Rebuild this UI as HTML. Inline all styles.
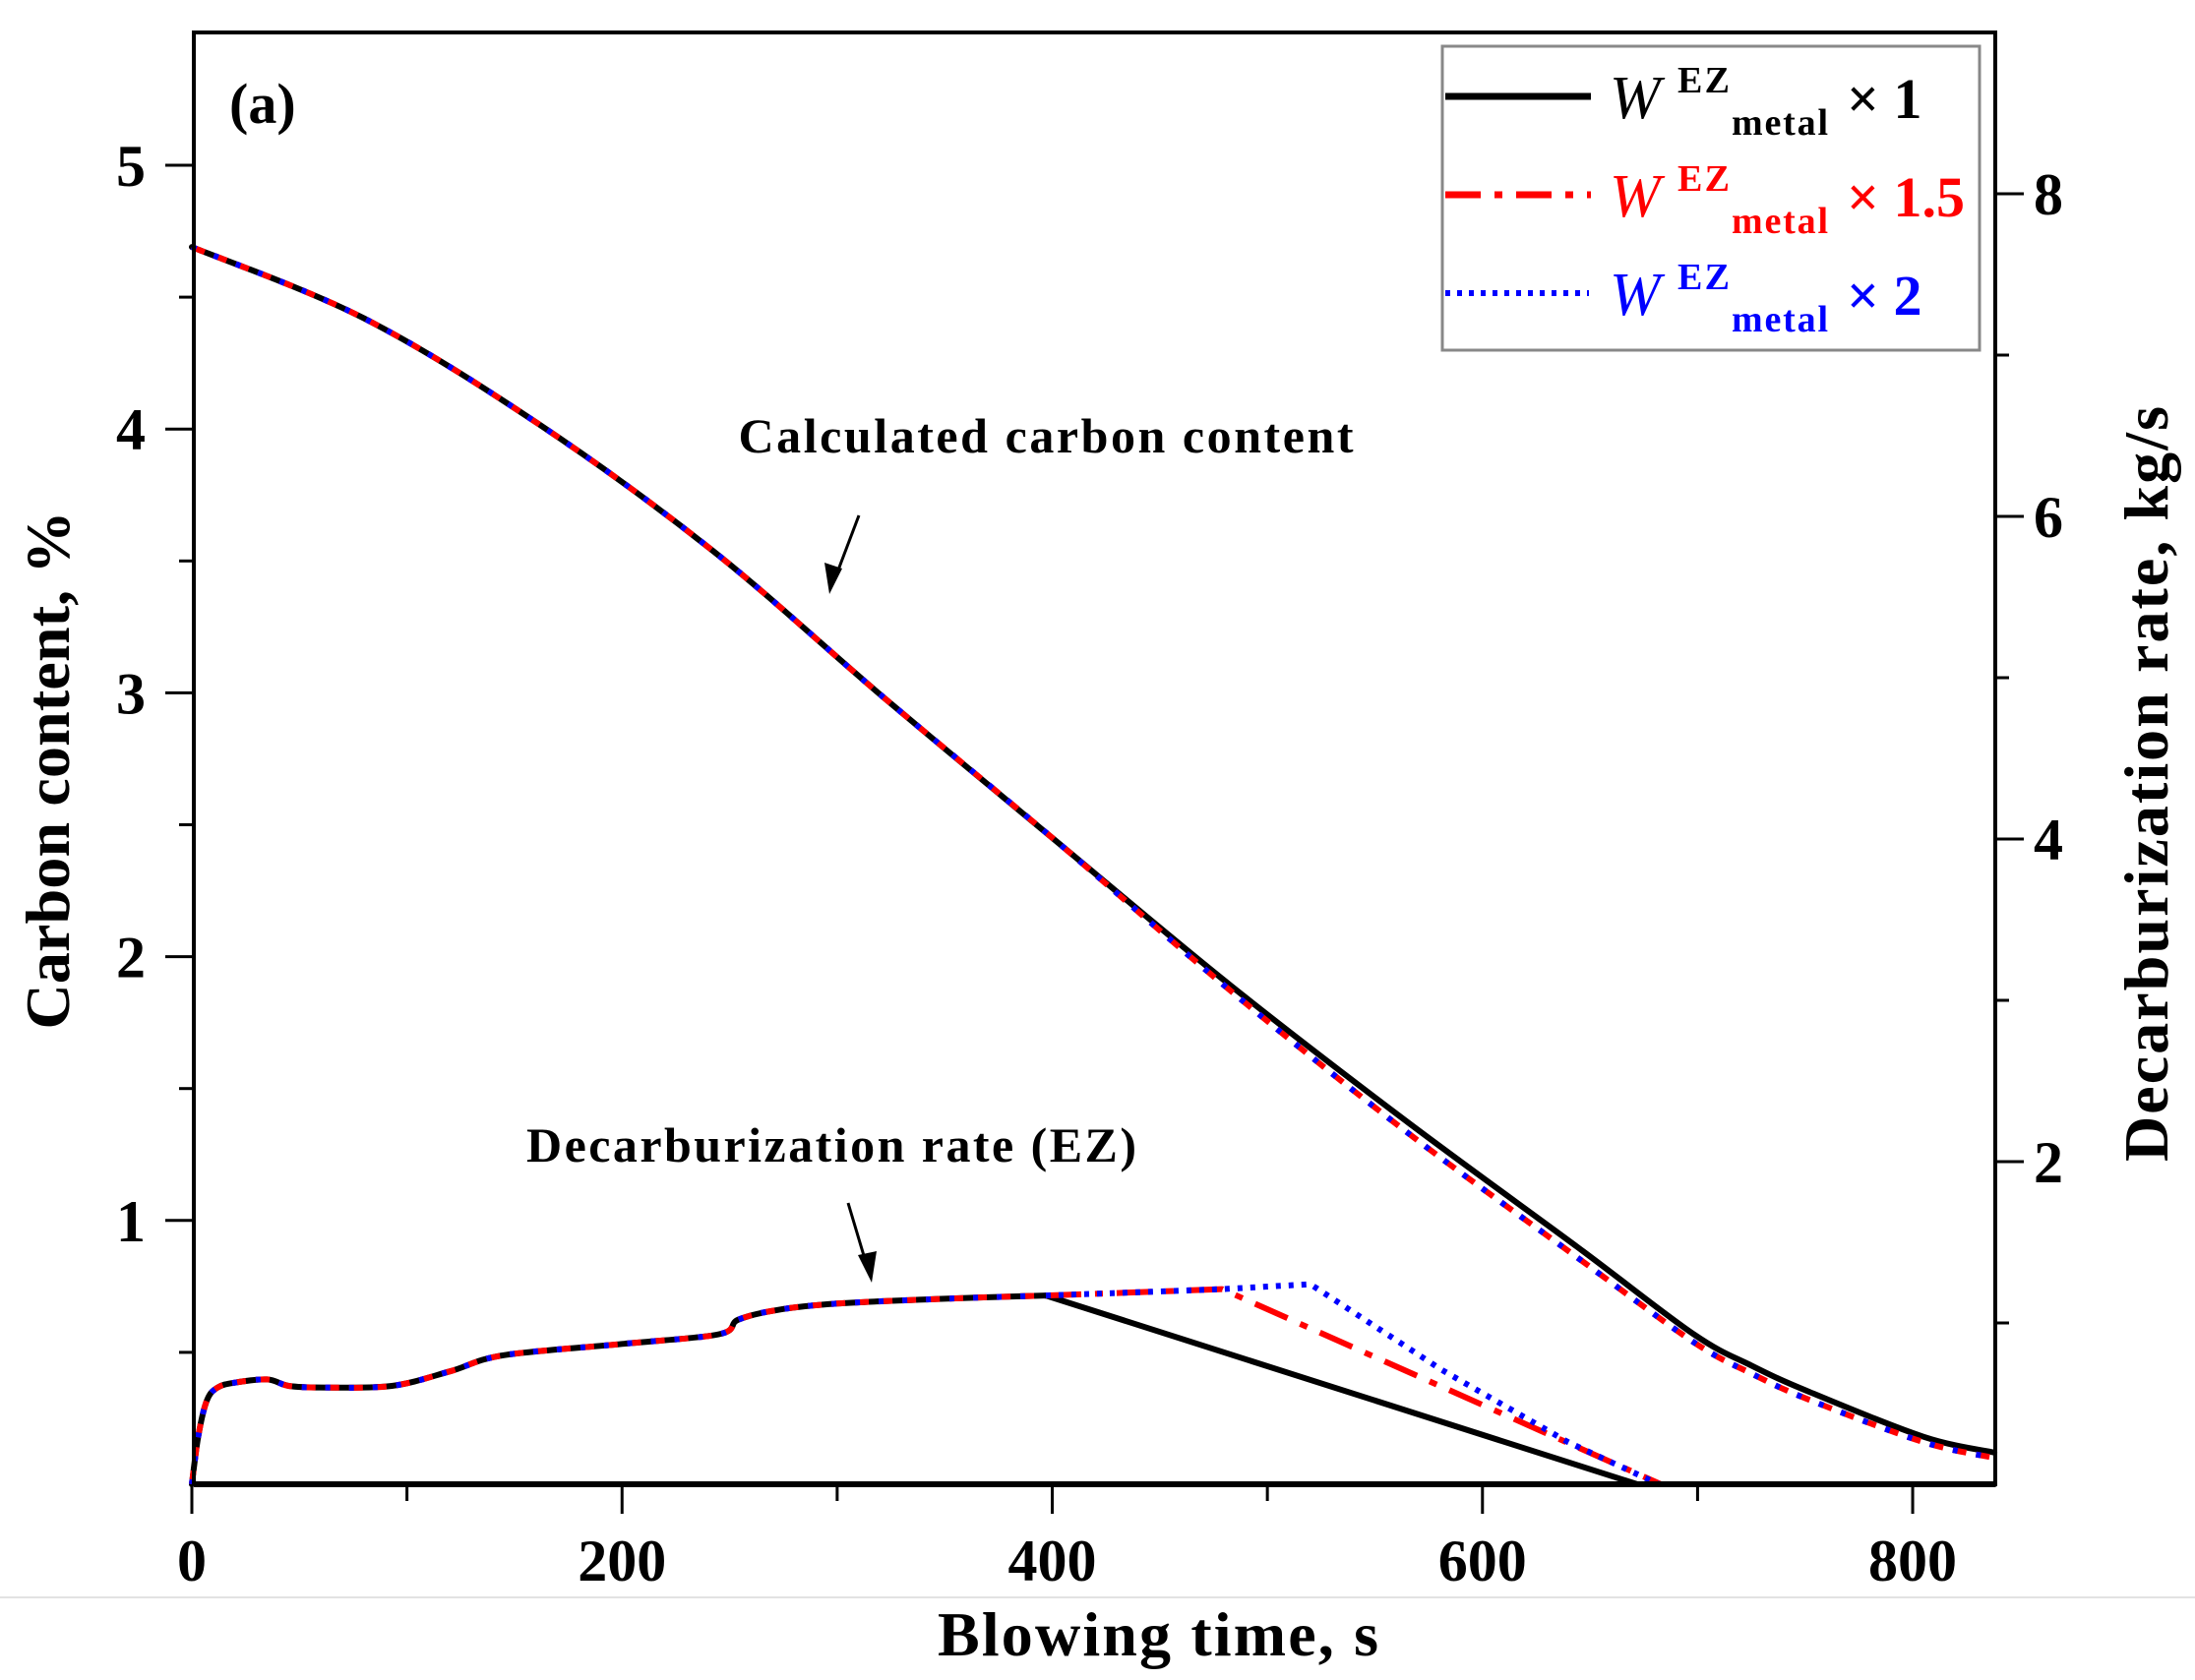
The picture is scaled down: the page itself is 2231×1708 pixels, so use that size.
<!DOCTYPE html>
<html><head><meta charset="utf-8"><style>
html,body{margin:0;padding:0;background:#fff;}
svg{display:block;font-family:"Liberation Serif",serif;}
</style></head><body>
<svg id="chart" width="2231" height="1708" viewBox="0 0 2231 1708" xmlns="http://www.w3.org/2000/svg">
<rect x="0" y="0" width="2231" height="1708" fill="#fff"/>
<line x1="0" y1="1624" x2="2231" y2="1624" stroke="#e2e2e2" stroke-width="2"/>
<g id="marks"></g>
<g id="axes"></g>
<text x="233" y="125" font-size="58" font-weight="bold">(a)</text>
<text x="1063" y="460" font-size="50" font-weight="bold" text-anchor="middle" textLength="625">Calculated carbon content</text>
<text x="845" y="1181" font-size="50" font-weight="bold" text-anchor="middle" textLength="620">Decarburization rate (EZ)</text>
<g><line x1="873" y1="524" x2="848" y2="590" stroke="#000" stroke-width="3"/><polygon points="843,604 838,572 856,578" fill="#000"/></g>
<g><line x1="862" y1="1223" x2="882" y2="1290" stroke="#000" stroke-width="3"/><polygon points="886,1304 872,1276 891,1272" fill="#000"/></g>
<text x="1177" y="1683" font-size="64" font-weight="bold" text-anchor="middle" textLength="448">Blowing time, s</text>
<text transform="translate(70,783) rotate(-90)" font-size="64" font-weight="bold" text-anchor="middle" textLength="527">Carbon content, %</text>
<text transform="translate(2203,797) rotate(-90)" font-size="64" font-weight="bold" text-anchor="middle" textLength="768">Decarburization rate, kg/s</text>
<g>
<rect x="1466" y="47" width="546" height="309" fill="#fff" stroke="#888" stroke-width="3"/>
<g>
<line x1="1469" y1="98" x2="1617" y2="98" stroke="#000" stroke-width="7"/>
<text x="1636" y="120" font-size="62" font-style="italic" fill="#000">W</text>
<text x="1705" y="94" font-size="38" font-weight="bold" fill="#000" textLength="53">EZ</text>
<text x="1760" y="137" font-size="38" font-weight="bold" fill="#000" textLength="98">metal</text>
<text x="1877" y="120" font-size="58" font-weight="bold" fill="#000">× 1</text>
</g>
<g>
<line x1="1469" y1="198" x2="1617" y2="198" stroke="#f00" stroke-width="7" stroke-dasharray="36,14,8,14"/>
<text x="1636" y="220" font-size="62" font-style="italic" fill="#f00">W</text>
<text x="1705" y="194" font-size="38" font-weight="bold" fill="#f00" textLength="53">EZ</text>
<text x="1760" y="237" font-size="38" font-weight="bold" fill="#f00" textLength="98">metal</text>
<text x="1877" y="220" font-size="58" font-weight="bold" fill="#f00">× 1.5</text>
</g>
<g>
<line x1="1469" y1="298" x2="1615" y2="298" stroke="#00f" stroke-width="6" stroke-dasharray="5,7"/>
<text x="1636" y="320" font-size="62" font-style="italic" fill="#00f">W</text>
<text x="1705" y="294" font-size="38" font-weight="bold" fill="#00f" textLength="53">EZ</text>
<text x="1760" y="337" font-size="38" font-weight="bold" fill="#00f" textLength="98">metal</text>
<text x="1877" y="320" font-size="58" font-weight="bold" fill="#00f">× 2</text>
</g>
</g>
</svg>
<script>
// ---- data ----
const carbonTime = [0, 80, 161, 242, 322, 403, 483, 564, 644, 698, 725, 752, 805, 838];
const carbonBase = [4.69, 4.42, 4.02, 3.54, 2.98, 2.43, 1.89, 1.38, 0.90, 0.57, 0.45, 0.35, 0.18, 0.12];
const carbonAlt  = [4.69, 4.42, 4.02, 3.54, 2.98, 2.43, 1.87, 1.34, 0.86, 0.54, 0.42, 0.32, 0.16, 0.10];
const rateTimeCommon = [0, 3, 7, 12, 20, 35, 45, 60, 93, 120, 145, 200, 245, 254, 272, 300, 350, 397];
const rateCommon     = [0, 0.30, 0.52, 0.60, 0.63, 0.65, 0.61, 0.60, 0.61, 0.70, 0.80, 0.87, 0.93, 1.02, 1.08, 1.12, 1.15, 1.17];
const rateTimeX1   = [397, 672, 838];
const rateX1       = [1.17, 0, 0];
const rateTimeX15  = [397, 440, 479, 683, 838];
const rateX15      = [1.17, 1.19, 1.21, 0, 0];
const rateTimeX2   = [397, 440, 479, 520, 581, 640, 682, 838];
const rateX2       = [1.17, 1.19, 1.21, 1.24, 0.71, 0.26, 0, 0];
const xTicks = [0, 200, 400, 600, 800];
const xMinor = [100, 300, 500, 700];
const leftTicks = [1, 2, 3, 4, 5];
const leftMinor = [0.5, 1.5, 2.5, 3.5, 4.5];
const rightTicks = [2, 4, 6, 8];
const rightMinor = [1, 3, 5, 7];

// ---- axes functions ----
const X0 = 197, X1 = 2028, Y0 = 1509, YT = 33;
const xs = t => 195 + t * 2.1863;
const yl = c => 1509 - c * 268.2;
const yr = r => 1509 - r * 164;
const NS = 'http://www.w3.org/2000/svg';
const marks = document.getElementById('marks');
const axes = document.getElementById('axes');
function mk(tag, attrs, parent) {
  const e = document.createElementNS(NS, tag);
  for (const k in attrs) e.setAttribute(k, attrs[k]);
  parent.appendChild(e);
  return e;
}
function pathD(ts, vs, f, smooth) {
  const p = ts.map((t, i) => [xs(t), f(vs[i])]);
  if (!smooth) return p.map((q, i) => (i ? 'L' : 'M') + q[0].toFixed(1) + ',' + q[1].toFixed(1)).join(' ');
  let d = 'M' + p[0][0].toFixed(1) + ',' + p[0][1].toFixed(1);
  for (let i = 0; i < p.length - 1; i++) {
    const a = p[Math.max(0, i - 1)], b = p[i], c = p[i + 1], e = p[Math.min(p.length - 1, i + 2)];
    const c1 = [b[0] + (c[0] - a[0]) / 6, b[1] + (c[1] - a[1]) / 6];
    const c2 = [c[0] - (e[0] - b[0]) / 6, c[1] - (e[1] - b[1]) / 6];
    d += ' C' + c1.map(v => v.toFixed(1)).join(',') + ' ' + c2.map(v => v.toFixed(1)).join(',') + ' ' + c[0].toFixed(1) + ',' + c[1].toFixed(1);
  }
  return d;
}
function series(ts, vs, f, color, dash, w, name, smooth) {
  const p = mk('path', {d: pathD(ts, vs, f, smooth), fill: 'none', stroke: color, 'stroke-width': w, 'stroke-linejoin': 'round', 'stroke-linecap': dash ? 'butt' : 'round'}, marks);
  if (dash) p.setAttribute('stroke-dasharray', dash);
  
  
}
// carbon content
series(carbonTime, carbonBase, yl, '#000', null, 6, 'carbon-line-x1', true);
series(carbonTime, carbonAlt, yl, '#f00', '14,10', 6, 'carbon-line-x1-5', true);
series(carbonTime, carbonAlt, yl, '#00f', '5,19', 6, 'carbon-line-x2', true);
// decarb common part
series(rateTimeCommon, rateCommon, yr, '#000', null, 6, 'rate-common-x1', true);
series(rateTimeCommon, rateCommon, yr, '#f00', '14,10', 6, 'rate-common-x1-5', true);
series(rateTimeCommon, rateCommon, yr, '#00f', '5,19', 6, 'rate-common-x2', true);
series(rateTimeX1, rateX1, yr, '#000', null, 6, 'rate-line-x1', false);
series(rateTimeX15, rateX15, yr, '#f00', '36,14,8,14', 6, 'rate-line-x1-5', false);
series(rateTimeX2, rateX2, yr, '#00f', '5,8', 6, 'rate-line-x2', false);

// frame
const fr = mk('path', {d: `M${X0},${YT} L${X1},${YT} L${X1},${Y0} L${X0},${Y0} Z`, fill: 'none', stroke: '#000', 'stroke-width': 4}, axes);


const bl = mk('line', {x1: X0, y1: Y0, x2: X1, y2: Y0, stroke: '#000', 'stroke-width': 6}, axes);



xTicks.forEach(t => {
  const l = mk('line', {x1: xs(t), y1: Y0, x2: xs(t), y2: Y0 + 30, stroke: '#000', 'stroke-width': 3}, axes);
  
  
  const tx = mk('text', {x: xs(t), y: 1607, 'font-size': 60, 'font-weight': 'bold', 'text-anchor': 'middle'}, axes);
  tx.textContent = t;
  
  
});
xMinor.forEach(t => {
  const l = mk('line', {x1: xs(t), y1: Y0, x2: xs(t), y2: Y0 + 17, stroke: '#000', 'stroke-width': 3}, axes);
  
  
});
leftTicks.forEach(v => {
  const l = mk('line', {x1: X0 - 29, y1: yl(v), x2: X0, y2: yl(v), stroke: '#000', 'stroke-width': 3}, axes);
  
  
  const tx = mk('text', {x: 148, y: yl(v) + 21, 'font-size': 60, 'font-weight': 'bold', 'text-anchor': 'end'}, axes);
  tx.textContent = v;
  
  
});
leftMinor.forEach(v => {
  const l = mk('line', {x1: X0 - 15, y1: yl(v), x2: X0, y2: yl(v), stroke: '#000', 'stroke-width': 3}, axes);
  
  
});
rightTicks.forEach(v => {
  const l = mk('line', {x1: X1, y1: yr(v), x2: X1 + 29, y2: yr(v), stroke: '#000', 'stroke-width': 3}, axes);
  
  
  const tx = mk('text', {x: 2067, y: yr(v) + 21, 'font-size': 60, 'font-weight': 'bold', 'text-anchor': 'start'}, axes);
  tx.textContent = v;
  
  
});
rightMinor.forEach(v => {
  const l = mk('line', {x1: X1, y1: yr(v), x2: X1 + 14, y2: yr(v), stroke: '#000', 'stroke-width': 3}, axes);
  
  
});
</script>
</body></html>
